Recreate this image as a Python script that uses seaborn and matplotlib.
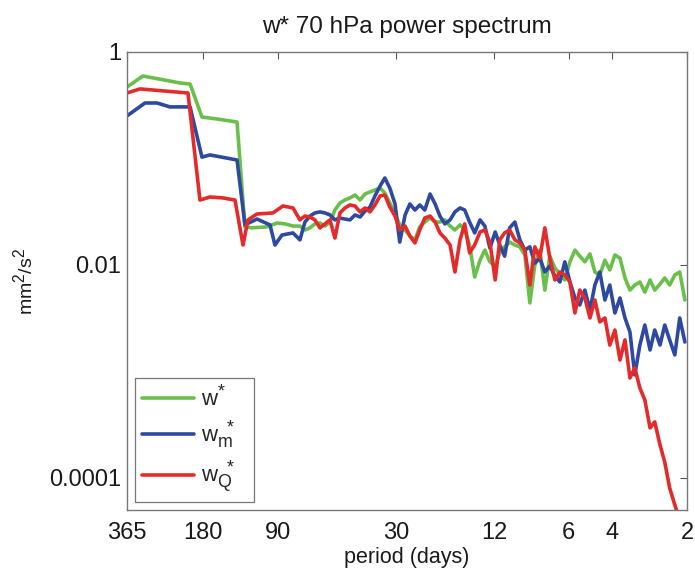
import numpy as np
import pandas as pd
import matplotlib
matplotlib.use("Agg")
import matplotlib.pyplot as plt
import seaborn as sns
from matplotlib.lines import Line2D

try:  # slightly larger sub/superscripts, like the MATLAB TeX interpreter
    import matplotlib._mathtext as _mt
    _mt.SHRINK_FACTOR = 0.8
except Exception:
    pass

# ---------------- data ----------------
# low-frequency part of each spectrum (period in days, power in mm^2/s^2)
green_period_lo = [365, 314.6, 223, 203, 181.8, 158.1, 131.2, 121.9, 114.2, 99.3, 90.5, 84.0, 78.0]
green_lo = [0.469, 0.595, 0.512, 0.50, 0.245, 0.235, 0.22, 0.0228, 0.0223, 0.0228, 0.0248, 0.0243, 0.0232]

blue_period_lo = [365, 308.8, 276, 244.8, 203, 181.8, 168.7, 131.2, 121.9, 109, 96.6, 92.2, 86.4, 78.0]
blue_lo = [0.251, 0.332, 0.332, 0.305, 0.305, 0.103, 0.108, 0.0968, 0.0238, 0.027, 0.0238, 0.0154, 0.0191, 0.020]

red_period_lo = [365, 323.6, 207, 185.2, 168.7, 149.5, 133.7, 124.1, 118.5, 109, 94.0, 85.6, 78.0]
red_lo = [0.412, 0.45, 0.412, 0.0407, 0.0435, 0.0426, 0.0407, 0.0154, 0.0265, 0.0301, 0.0308, 0.0358, 0.0343]

# shared period grid for the noisy high-frequency part
period_hi = [73.1, 69.8, 66.6, 63.6, 60.7, 57.9, 55.3, 52.8, 50.4, 48.1,
             45.9, 43.8, 41.8, 39.9, 38.1, 36.4, 34.7, 33.2, 31.7, 30.2,
             28.9, 27.5, 26.3, 25.1, 24.0, 22.9, 21.8, 20.8, 19.9, 19.0,
             18.1, 17.3, 16.5, 15.8, 15.1, 14.4, 13.7, 13.1, 12.5, 11.9,
             11.4, 10.9, 10.4, 9.91, 9.46, 9.03, 8.62, 8.23, 7.86, 7.50,
             7.16, 6.83, 6.52, 6.23, 5.94, 5.67, 5.42, 5.17, 4.93, 4.71,
             4.50, 4.29, 4.10, 3.91, 3.73, 3.56, 3.40, 3.25, 3.10, 2.96,
             2.82, 2.70, 2.57, 2.46, 2.35, 2.24, 2.14, 2.04]

# values in units of 1e-2 mm^2/s^2
green_hi = [2.32, 2.13, 2.23, 2.43, 2.48, 2.32, 2.53, 3.28, 3.82, 4.08,
            4.26, 4.54, 4.08, 4.64, 4.85, 5.06, 5.28, 4.74, 3.82, 3.01,
            2.38, 2.13, 1.87, 1.72, 2.28, 2.53, 2.76, 2.53, 2.53, 2.65,
            2.32, 2.13, 2.38, 2.13, 1.54, 0.771, 1.11, 1.38, 1.07, 0.979,
            1.30, 1.48, 1.64, 1.54, 1.48, 1.24, 0.440, 1.00, 1.38, 0.581,
            1.21, 0.937, 0.823, 0.723, 1.07, 1.38, 1.21, 1.07, 1.27, 0.859,
            0.806, 1.11, 0.898, 1.24, 1.16, 0.755, 0.581, 0.648, 0.692, 0.556,
            0.723, 0.581, 0.662, 0.755, 0.648, 0.806, 0.859, 0.469]

blue_hi = [1.72, 2.53, 2.88, 3.08, 3.15, 3.08, 2.95, 2.65, 2.76, 2.70,
           2.65, 2.95, 2.82, 3.21, 3.50, 4.45, 5.52, 6.56, 5.28, 3.74,
           1.64, 2.95, 3.74, 3.28, 3.66, 3.28, 4.64, 3.74, 2.88, 2.43,
           2.65, 3.15, 3.43, 3.28, 2.53, 2.00, 2.65, 2.32, 1.44, 2.04,
           1.54, 1.21, 2.23, 2.53, 1.72, 1.38, 1.48, 1.04, 1.16, 0.859,
           0.979, 0.788, 0.692, 1.07, 0.692, 0.490, 0.421, 0.581, 0.378, 0.648,
           0.859, 0.469, 0.648, 0.354, 0.490, 0.318, 0.235, 0.0927, 0.177, 0.273,
           0.159, 0.245, 0.177, 0.273, 0.198, 0.143, 0.318, 0.189]

red_hi = [2.65, 2.88, 2.82, 2.65, 2.23, 2.43, 2.65, 1.79, 3.08, 3.43,
          3.66, 3.58, 3.15, 3.43, 3.15, 3.66, 4.45, 4.54, 3.50, 2.88,
          2.13, 2.32, 1.87, 1.61, 2.13, 2.76, 2.88, 2.53, 2.00, 1.79,
          1.54, 0.859, 1.72, 2.43, 1.30, 1.54, 2.04, 2.13, 1.64, 0.723,
          1.72, 2.00, 2.13, 1.72, 1.61, 1.38, 0.648, 1.48, 1.16, 2.23,
          1.16, 0.723, 0.859, 0.806, 0.692, 0.354, 0.581, 0.490, 0.318, 0.469,
          0.292, 0.318, 0.177, 0.245, 0.128, 0.198, 0.0869, 0.108, 0.070, 0.054,
          0.0295, 0.0336, 0.0204, 0.0141, 0.00805, 0.00558, 0.004, 0.003]

series_labels = [r"w$^{*}$", r"w$_{m}^{\ *}$", r"w$_{Q}^{\ *}$"]
series_colors = ["#6abf4b", "#2e4aa0", "#e42a2a"]

x_ticks = [365, 180, 90, 30, 12, 6, 4, 2]
y_ticks = [1, 0.01, 0.0001]
y_tick_labels = ["1", "0.01", "0.0001"]

# ---------------- build a long table ----------------
frames = []
for lab, p_lo, v_lo, v_hi in [
    (series_labels[0], green_period_lo, green_lo, green_hi),
    (series_labels[1], blue_period_lo, blue_lo, blue_hi),
    (series_labels[2], red_period_lo, red_lo, red_hi),
]:
    per = list(p_lo) + list(period_hi)
    val = list(v_lo) + [v * 1e-2 for v in v_hi]
    frames.append(pd.DataFrame({"period": per, "power": val, "series": lab}))
df = pd.concat(frames, ignore_index=True)

# ---------------- plot ----------------
sns.set_theme(style="white")
plt.rcParams["font.family"] = ["Liberation Sans", "DejaVu Sans"]
plt.rcParams["mathtext.default"] = "regular"

fig = plt.figure(figsize=(6.95, 5.72), dpi=100)
ax = fig.add_axes([0.1827, 0.1084, 0.8058, 0.8007])

sns.lineplot(data=df, x="period", y="power", hue="series", units="series",
             estimator=None, sort=False, palette=series_colors,
             hue_order=series_labels, linewidth=2.6, ax=ax, legend=False)

ax.set_xscale("log")
ax.set_yscale("log")
ax.set_xlim(365, 2)
ax.set_ylim(5e-5, 1)

ax.set_xticks(x_ticks)
ax.set_xticklabels([str(t) for t in x_ticks])
ax.set_yticks(y_ticks)
ax.set_yticklabels(y_tick_labels)
ax.minorticks_off()
ax.tick_params(axis="both", which="major", direction="in", length=5,
               width=0.8, color="#555555", labelsize=17, top=True, right=True,
               labelcolor="#1a1a1a")
ax.tick_params(axis="x", pad=9)
ax.tick_params(axis="y", pad=4)

for sp in ax.spines.values():
    sp.set_color("#777777")
    sp.set_linewidth(1.0)

ax.set_title("w* 70 hPa power spectrum", fontsize=17.5, color="#1a1a1a", pad=14)
ax.set_xlabel("period (days)", fontsize=15.5, color="#1a1a1a", labelpad=2)
ax.set_ylabel(r"mm$^2$/s$^2$", fontsize=14, color="#1a1a1a", labelpad=9)

handles = [Line2D([0], [0], color=c, lw=2.6) for c in series_colors]
leg = ax.legend(handles, series_labels, loc="lower left",
                bbox_to_anchor=(0.0143, 0.0175, 0.2125, 0.2), mode="expand",
                fontsize=16, frameon=True,
                fancybox=False, edgecolor="#555555", handlelength=2.35,
                handletextpad=0.3, labelspacing=0.35, borderpad=0.3,
                borderaxespad=0.0)
leg.get_frame().set_linewidth(0.9)

fig.savefig("out.png", dpi=100, facecolor="white")
